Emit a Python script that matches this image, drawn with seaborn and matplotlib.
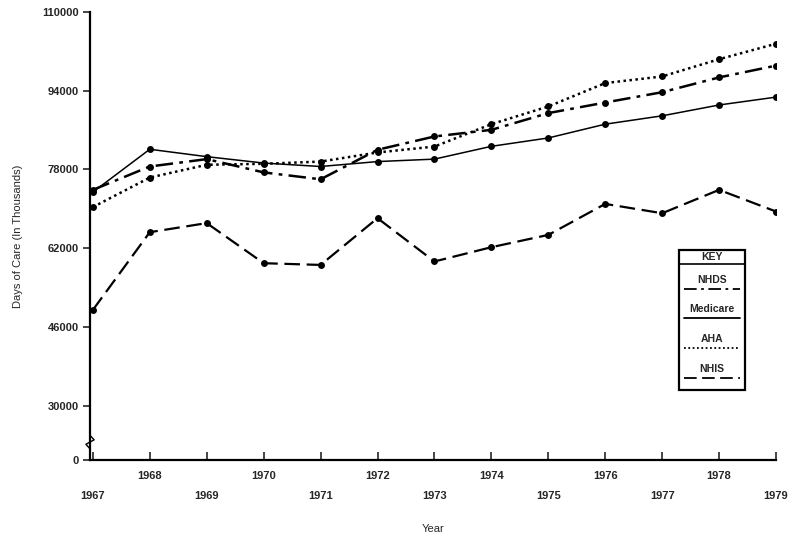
import pandas as pd
import matplotlib
matplotlib.use("Agg")
import matplotlib.pyplot as plt
import seaborn as sns
from matplotlib.lines import Line2D

# -------------------------------
# Data
# -------------------------------
years = list(range(1967, 1980))
nhds = [73850, 78600, 80100, 77400, 76000, 82000, 84700, 86050, 89450, 91600, 93700, 96700, 99100]
medicare = [73400, 82100, 80600, 79300, 78600, 79600, 80100, 82700, 84400, 87200, 88900, 91100, 92700]
aha = [70350, 76350, 78950, 79150, 79600, 81450, 82650, 87200, 90800, 95550, 96900, 100400, 103550]
nhis = [49450, 65250, 67100, 58950, 58600, 68100, 59300, 62200, 64700, 71000, 69100, 73850, 69450]

series_names = ["NHDS", "Medicare", "AHA", "NHIS"]
y_ticks = [30000, 46000, 62000, 78000, 94000, 110000]
y_floor = 18960  # broken axis: bottom of the plot is labelled 0

df = pd.DataFrame({
    "Year": years * 4,
    "Days": nhds + medicare + aha + nhis,
    "Source": sum([[n] * len(years) for n in series_names], []),
})

dashes = {"NHDS": (7, 2.5, 1.5, 2.5), "Medicare": "", "AHA": (1, 1.4), "NHIS": (7, 3)}
widths = {"NHDS": 1.8, "Medicare": 1.1, "AHA": 1.8, "NHIS": 1.6}

# -------------------------------
# Plot
# -------------------------------
sns.set_style("ticks")
plt.rcParams["font.family"] = ["Liberation Sans", "DejaVu Sans"]

fig = plt.figure(figsize=(7.93, 5.42), dpi=100)
ax = fig.add_axes([0.1135, 0.1513, 0.8651, 0.8266])

sns.lineplot(data=df, x="Year", y="Days", hue="Source", style="Source",
             palette={n: "black" for n in series_names}, dashes=dashes,
             markers={n: "o" for n in series_names}, markersize=5,
             markeredgewidth=0, legend=False, ax=ax)
for line, name in zip(ax.get_lines(), series_names):
    line.set_linewidth(widths[name])

ax.set_xlim(1966.95, 1979)
ax.set_ylim(y_floor, 110000)

ax.set_yticks([y_floor] + y_ticks)
ax.set_yticklabels(["0"] + [str(t) for t in y_ticks], fontsize=8, fontweight="bold")
ax.tick_params(axis="y", direction="out", length=5, width=1.2, pad=3)

# staggered year labels: odd years low, even years high
ax.set_xticks(years[::2])
ax.set_xticklabels([str(y) for y in years[::2]], fontsize=8, fontweight="bold")
ax.set_xticks(years[1::2], minor=True)
ax.set_xticklabels([str(y) for y in years[1::2]], minor=True, fontsize=8, fontweight="bold")
ax.tick_params(axis="x", which="major", direction="in", length=6, width=1.2, pad=22)
ax.tick_params(axis="x", which="minor", direction="in", length=6, width=1.2, pad=8)

for s in ["top", "right"]:
    ax.spines[s].set_visible(False)
for s in ["left", "bottom"]:
    ax.spines[s].set_linewidth(1.6)
    ax.spines[s].set_color("black")

ax.set_xlabel("Year", fontsize=8, labelpad=17)
ax.set_ylabel("Days of Care (In Thousands)", fontsize=8, labelpad=14)

# small break mark on the y axis
ax.plot([0.0, 0.006, -0.006, 0.0], [0.055, 0.045, 0.035, 0.025], color="black",
        lw=1, transform=ax.transAxes, clip_on=False)

# -------------------------------
# KEY box
# -------------------------------
bx0, bx1, by0, by1 = 0.859, 0.955, 0.156, 0.469
ax.add_patch(plt.Rectangle((bx0, by0), bx1 - bx0, by1 - by0, transform=ax.transAxes,
                           fill=False, lw=1.6, ec="black", zorder=5))
ax.plot([bx0, bx1], [0.438, 0.438], color="black", lw=1.2, transform=ax.transAxes)
ax.text((bx0 + bx1) / 2, 0.452, "KEY", transform=ax.transAxes, ha="center", va="center",
        fontsize=7.5, fontweight="bold")
for i, name in enumerate(series_names):
    ty = 0.402 - i * 0.066
    ax.text((bx0 + bx1) / 2, ty, name, transform=ax.transAxes, ha="center", va="center",
            fontsize=7.5, fontweight="bold")
    ls = (0, dashes[name]) if dashes[name] else "-"
    ax.add_line(Line2D([bx0 + 0.007, bx1 - 0.007], [ty - 0.02, ty - 0.02], color="black",
                       lw=1.3, linestyle=ls, transform=ax.transAxes))

plt.savefig("out.png", dpi=100)
